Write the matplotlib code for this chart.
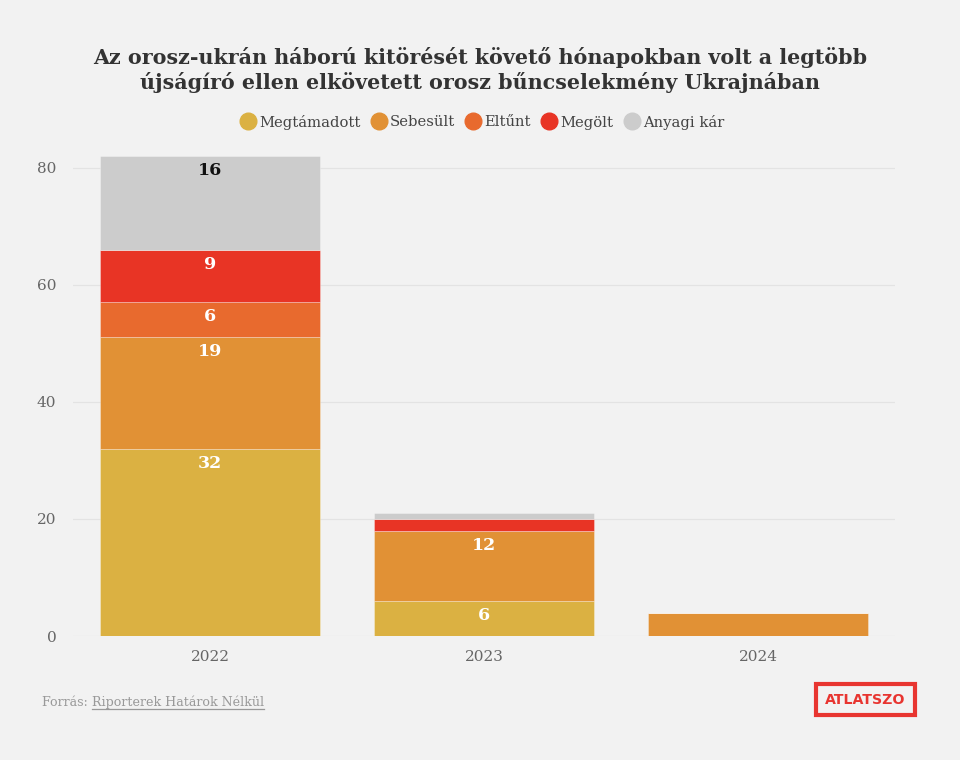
import matplotlib
matplotlib.use("Agg")
import matplotlib.pyplot as plt
from matplotlib.patches import Rectangle
from matplotlib.lines import Line2D
import numpy as np

years = ["2022", "2023", "2024"]
series_names = ["Megtámadott", "Sebesült", "Eltűnt", "Megölt", "Anyagi kár"]
megtamadott = [32, 6, 0]
sebesult = [19, 12, 4]
eltunt = [6, 0, 0]
megolt = [9, 2, 0]
anyagi_kar = [16, 1, 0]
colors = ["#DBB142", "#E19135", "#E86A2E", "#E83425", "#CCCCCC"]
label_colors = ["white", "white", "white", "white", "#111111"]
y_ticks = [0, 20, 40, 60, 80]

title = "Az orosz-ukrán háború kitörését követő hónapokban volt a legtöbb\nújságíró ellen elkövetett orosz bűncselekmény Ukrajnában"

bg = "#F2F2F2"
fig = plt.figure(figsize=(9.6, 7.6), dpi=100, facecolor=bg)
ax = fig.add_axes([73/960, 1-636/760, 822/960, 486/760], facecolor=bg)

serif = ["DejaVu Serif"]
x = np.arange(len(years))
bottom = np.zeros(len(years))
all_series = [megtamadott, sebesult, eltunt, megolt, anyagi_kar]
ax.set_ylim(0, 83)
ax.set_xlim(-0.5, 2.5)
for vals, c, lc in zip(all_series, colors, label_colors):
    v = np.array(vals, dtype=float)
    ax.bar(x, v, bottom=bottom, width=0.8, color=c, edgecolor=(1, 1, 1, 0.35), linewidth=0.6, zorder=3)
    for xi, vi, bi in zip(x, v, bottom):
        if vi >= 5:
            ax.annotate(f"{int(vi)}", (xi, bi + vi), xytext=(0, -10.5), textcoords="offset points",
                        ha="center", va="center", color=lc, fontsize=12.5, fontweight="bold",
                        family=serif, zorder=4)
    bottom += v

ax.set_yticks(y_ticks)
ax.set_xticks(x)
ax.set_xticklabels(years)
ax.tick_params(axis="both", length=0, labelsize=11, labelcolor="#666666")
ax.tick_params(axis="y", pad=12)
ax.tick_params(axis="x", pad=10)
for lab in ax.get_xticklabels() + ax.get_yticklabels():
    lab.set_family(serif)
ax.grid(axis="y", color="#E3E3E3", linewidth=0.9, zorder=0)
for s in ax.spines.values():
    s.set_visible(False)

fig.text(0.5, 1-70/760, title, ha="center", va="center", fontsize=14.9, fontweight="bold",
         family=serif, color="#333333", linespacing=1.2)

handles = [Line2D([0], [0], marker="o", color="none", markerfacecolor=c, markeredgecolor=c,
                  markersize=12) for c in colors]
fig.legend(handles, series_names, loc="center", bbox_to_anchor=(0.5, 1-122/760), ncol=5,
           frameon=False, prop={"family": serif, "size": 10.6}, handletextpad=-0.05,
           columnspacing=0.45, handlelength=1.6, labelcolor="#444444")

t1 = fig.text(42/960, 1-702/760, "Forrás: ", ha="left", va="center", fontsize=9.1,
              family=serif, color="#999999")
fig.canvas.draw()
bb = t1.get_window_extent()
x2 = bb.x1 / 960
t2 = fig.text(x2, 1-702/760, "Riporterek Határok Nélkül", ha="left", va="center", fontsize=9.1,
              family=serif, color="#999999")
fig.canvas.draw()
bb2 = t2.get_window_extent()
fig.add_artist(Line2D([bb2.x0/960, bb2.x1/960], [1-709/760, 1-709/760], color="#999999", linewidth=0.9))

fig.add_artist(Rectangle((816/960, 1-715/760), 99/960, 31/760, fill=False, edgecolor="#E83530",
                         linewidth=3, transform=fig.transFigure))
fig.text(865.5/960, 1-699.5/760, "ATLATSZO", ha="center", va="center", fontsize=10.2,
         fontweight="heavy", family=["DejaVu Sans"], color="#E83530")

fig.savefig("out.png", dpi=100, facecolor=bg)
